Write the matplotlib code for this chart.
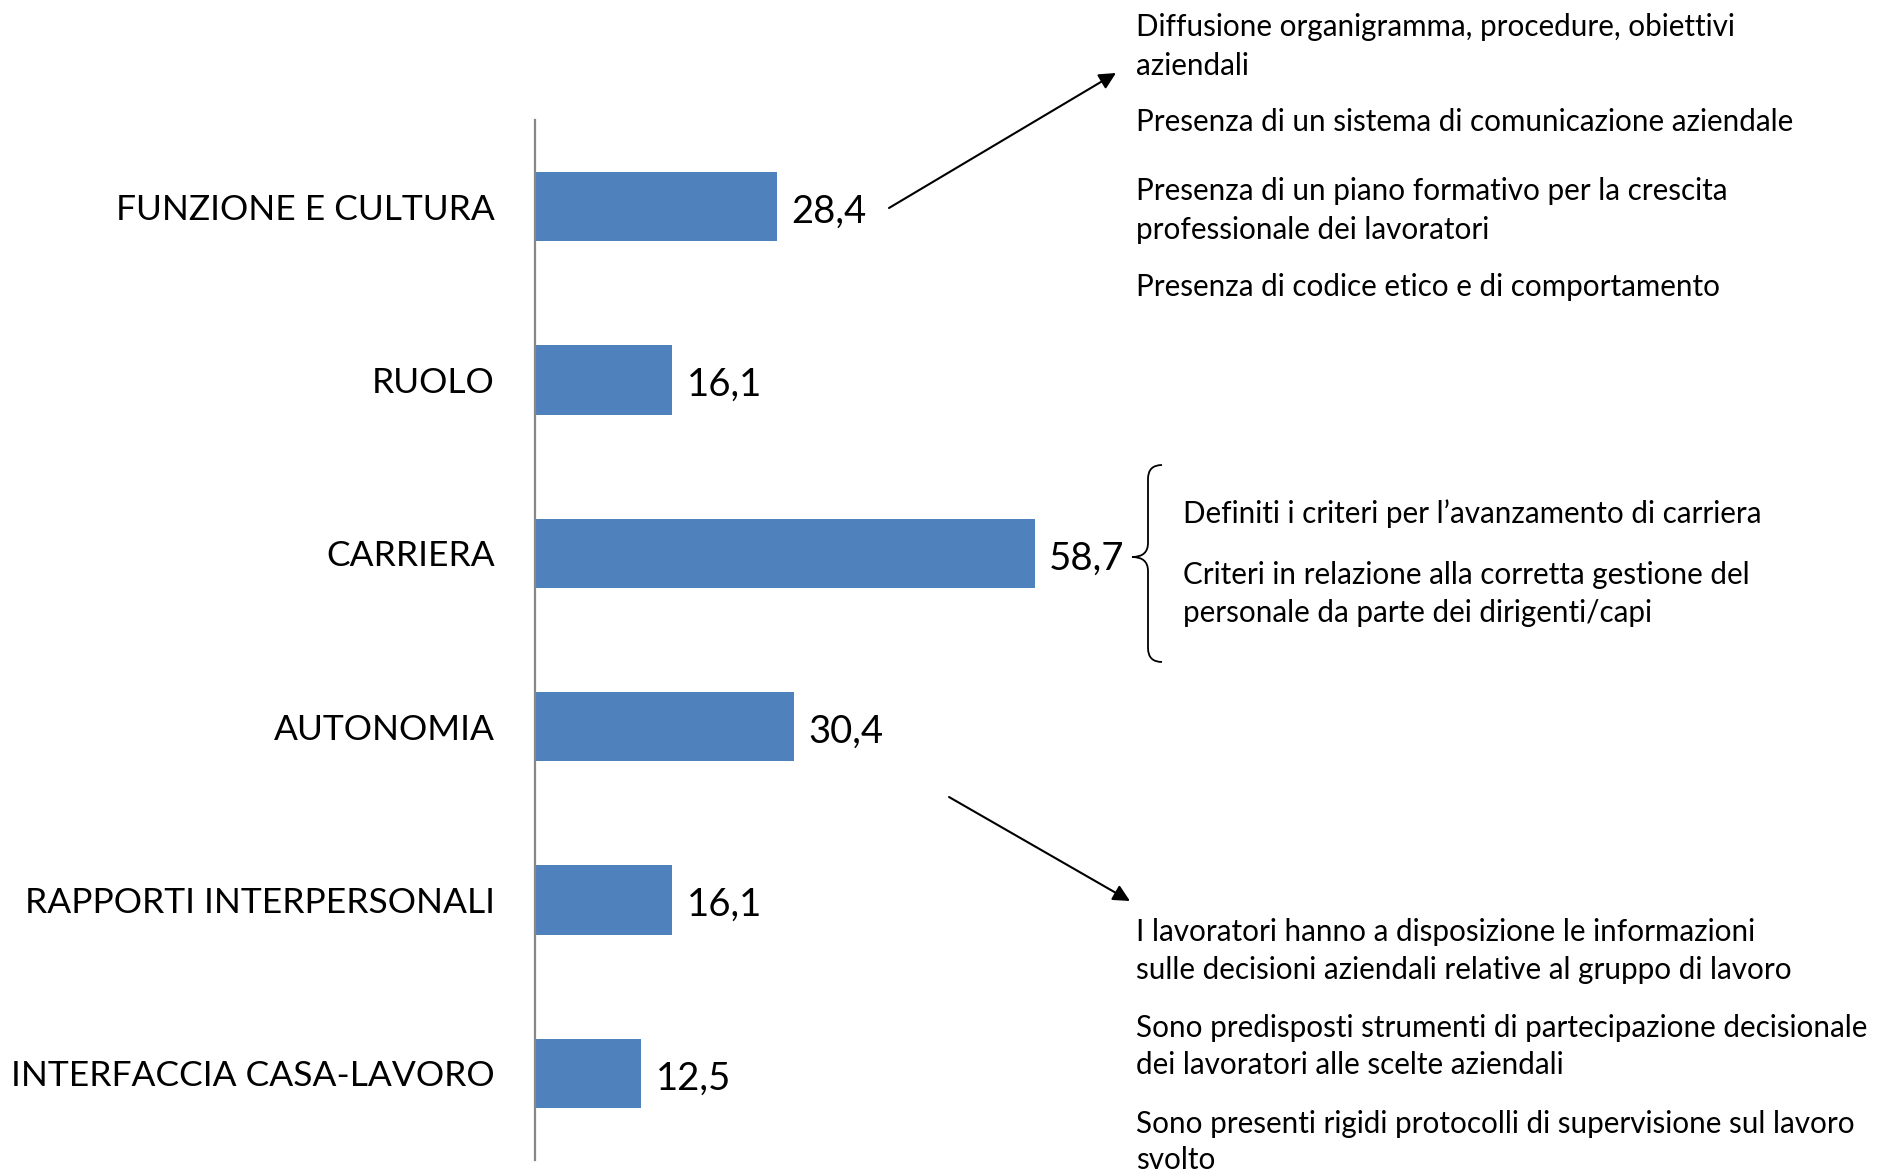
import matplotlib.pyplot as plt
from matplotlib.path import Path
from matplotlib.patches import PathPatch

W, H = 1879, 1172

categories = ['FUNZIONE E CULTURA', 'RUOLO', 'CARRIERA', 'AUTONOMIA',
              'RAPPORTI INTERPERSONALI', 'INTERFACCIA CASA-LAVORO']
values = [28.4, 16.1, 58.7, 30.4, 16.1, 12.5]

notes_funzione = [
    ['Diffusione organigramma, procedure, obiettivi', 'aziendali'],
    ['Presenza di un sistema di comunicazione aziendale'],
    ['Presenza di un piano formativo per la crescita', 'professionale dei lavoratori'],
    ['Presenza di codice etico e di comportamento'],
]
notes_carriera = [
    ['Definiti i criteri per l\u2019avanzamento di carriera'],
    ['Criteri in relazione alla corretta gestione del', 'personale da parte dei dirigenti/capi'],
]
notes_autonomia = [
    ['I lavoratori hanno a disposizione le informazioni',
     'sulle decisioni aziendali relative al gruppo di lavoro'],
    ['Sono predisposti strumenti di partecipazione decisionale',
     'dei lavoratori alle scelte aziendali'],
    ['Sono presenti rigidi protocolli di supervisione sul lavoro', 'svolto'],
]

plt.rcParams['font.family'] = ['Lato', 'DejaVu Sans']
BAR = '#4F81BD'


def fx(x):
    return x / W


def fy(y):
    return 1 - y / H


fig = plt.figure(figsize=(W / 100, H / 100), dpi=100)
ax = fig.add_axes([fx(535), fy(1160), fx(851), (1160 - 120) / H])

ypos = range(len(categories))
ax.barh(ypos, values, height=0.4, color=BAR)
ax.set_ylim(len(categories) - 0.5, -0.5)
ax.set_xlim(0, 100)
ax.set_yticks(list(ypos))
ax.set_yticklabels(categories, fontsize=25.5)
ax.tick_params(axis='y', length=0, pad=29)
ax.set_xticks([])
for s in ['top', 'right', 'bottom']:
    ax.spines[s].set_visible(False)
ax.spines['left'].set_color('#868686')
ax.spines['left'].set_linewidth(1.6)

for i, v in enumerate(values):
    ax.text(v + 1.7, i + 0.03, f'{v:.1f}'.replace('.', ','), va='center', ha='left',
            fontsize=27.5, color='black')

# side notes
def put_notes(groups, x, ys):
    k = 0
    for g in groups:
        for line in g:
            fig.text(fx(x), fy(ys[k]), line, fontsize=21.3, va='center', ha='left')
            k += 1

put_notes(notes_funzione, 1136, [27, 66, 122, 191, 230, 287])
put_notes(notes_carriera, 1183, [514, 575, 613])
put_notes(notes_autonomia, 1136, [932, 970, 1028, 1065, 1124, 1160])

# arrows
fig.add_artist(plt.Annotation('', xy=(fx(1116), fy(73)), xytext=(fx(889), fy(208)),
                              xycoords='figure fraction', textcoords='figure fraction',
                              arrowprops=dict(arrowstyle='-|>', color='black', lw=1.5,
                                              mutation_scale=25, shrinkA=0, shrinkB=0)))
fig.add_artist(plt.Annotation('', xy=(fx(1130), fy(901)), xytext=(fx(949), fy(797)),
                              xycoords='figure fraction', textcoords='figure fraction',
                              arrowprops=dict(arrowstyle='-|>', color='black', lw=1.5,
                                              mutation_scale=25, shrinkA=0, shrinkB=0)))

# curly brace next to CARRIERA
bx, tip, top, mid, bot, r = 1148, 1132, 465, 557, 662, 14
verts = [
    (bx + r, top), (bx, top), (bx, top + r),
    (bx, mid - r),
    (bx, mid), (tip, mid),
    (bx, mid), (bx, mid + r),
    (bx, bot - r),
    (bx, bot), (bx + r, bot),
]
codes = [Path.MOVETO, Path.CURVE3, Path.CURVE3, Path.LINETO,
         Path.CURVE3, Path.CURVE3, Path.CURVE3, Path.CURVE3,
         Path.LINETO, Path.CURVE3, Path.CURVE3]
brace = Path([(fx(a), fy(b)) for a, b in verts], codes)
fig.add_artist(PathPatch(brace, transform=fig.transFigure, fill=False,
                         edgecolor='black', lw=1.3))

fig.savefig('out.png', dpi=100)
